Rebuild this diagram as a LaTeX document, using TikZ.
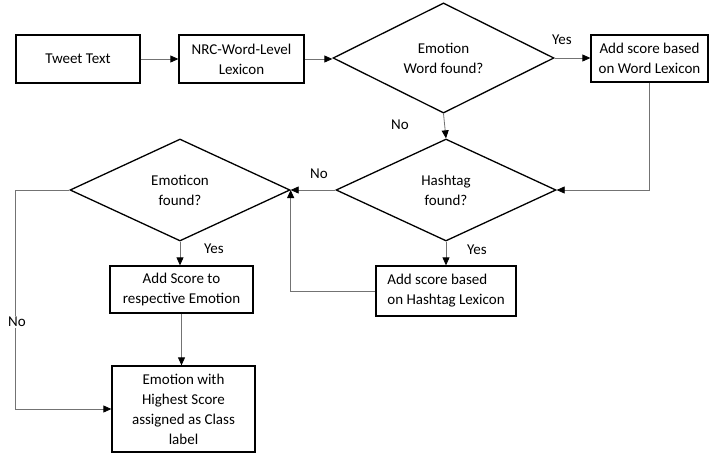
\documentclass[tikz,border=0pt]{standalone}
\usepackage{fontspec}
\setmainfont{Carlito}
\usetikzlibrary{shapes.geometric,arrows.meta}
\begin{document}
\begin{tikzpicture}[x=1pt,y=-1pt,
  every node/.style={font=\fontsize{15}{20}\selectfont},
  procbox/.style={draw=black,line width=1.3pt,rectangle,inner sep=2pt,align=center},
  decide/.style={draw=black,line width=1.3pt,diamond,inner sep=0pt,align=center,minimum width=220pt,minimum height=102pt},
  conn/.style={draw=black!55,line width=0.8pt,-{Triangle[length=8pt,width=7pt,black]}},
  lbl/.style={inner sep=1pt}
]
\useasboundingbox (0,0) rectangle (710,453);
\node[procbox,minimum width=124pt,minimum height=48pt] (tweet) at (78,59) {Tweet Text};
\node[procbox,minimum width=125pt,minimum height=48pt] (nrc) at (241.5,59) {NRC-Word-Level\\Lexicon};
\node[decide,minimum width=221pt] (ew) at (443.5,58) {Emotion\\Word found?};
\node[procbox,minimum width=117pt,minimum height=47pt] (wl) at (649.5,58.5) {Add score based\\on Word Lexicon};
\node[decide] (ht) at (446,190) {Hashtag\\found?};
\node[procbox,align=left,minimum width=140pt,minimum height=50pt] (hl) at (446,291) {Add score based\\on Hashtag Lexicon};
\node[decide] (em) at (180,190) {Emoticon\\found?};
\node[procbox,minimum width=143pt,minimum height=47pt] (as) at (181.5,289.5) {Add Score to\\respective Emotion};
\node[procbox,minimum width=143pt,minimum height=86pt] (fin) at (183.5,409) {Emotion with\\Highest Score\\assigned as Class\\label};

\draw[conn] (tweet.east) -- (tweet.east -| nrc.west);
\draw[conn] (nrc.east) -- (nrc.east -| ew.west);
\draw[conn] (ew.east) -- (ew.east -| wl.west);
\node[lbl] (yes1) at (562,40) {Yes};
\draw[conn] (ew.south) -- (ht.north);
\node[lbl] (no1) at (400,125) {No};
\draw[conn] (wl.south) |- (ht.east);
\draw[conn] (ht.west) -- (em.east);
\node[lbl] (no2) at (319,174) {No};
\draw[conn] (ht.south) -- (hl.north);
\node[lbl] (yes2) at (477,250) {Yes};
\draw[conn] (hl.west) -| (em.east);
\draw[conn] (em.south) -- (em.south |- as.north);
\node[lbl] (yes3) at (214,249) {Yes};
\draw[conn] (as.south) -- (as.south |- fin.north);
\coordinate (lc) at (15,190);
\draw[conn] (em.west) -- (lc) |- (fin.west);
\node[lbl,fill=white] (no3) at (17,322) {No};
\end{tikzpicture}
\end{document}
